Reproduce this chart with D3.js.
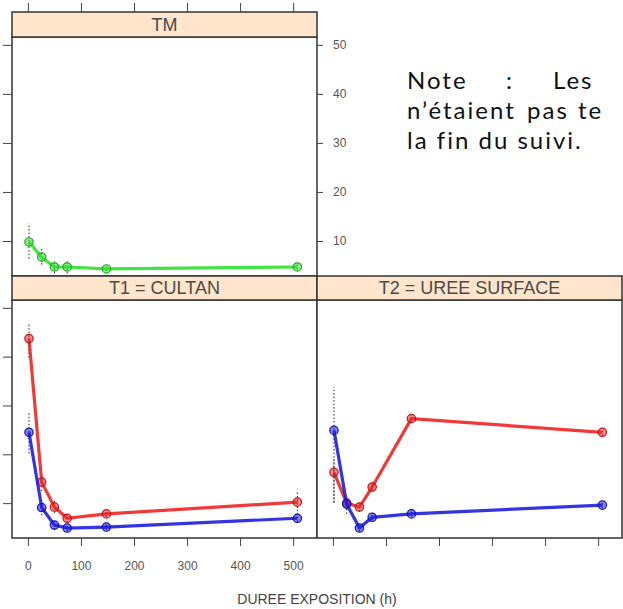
<!DOCTYPE html>
<html>
<head>
<meta charset="utf-8">
<script src="https://cdn.jsdelivr.net/npm/d3@7"></script>
<style>
  html, body { margin: 0; padding: 0; background: #fff; }
  svg { display: block; }
</style>
</head>
<body>
<div id="chart"></div>
<script>
// durations (h) shared by every panel
const hours = [2, 26, 50, 74, 148, 508];

// panel TM (green)
const tmVals = [9.8, 6.7, 4.7, 4.7, 4.3, 4.7];
const tmLo   = [6.4, 5.2, 3.4, 3.4, 3.9, 4.2];
const tmHi   = [13.6, 8.4, 5.8, 6.2, 4.8, 5.2];

// panel T1 = CULTAN
const t1Red  = [43.7, 14.3, 9.2, 6.9, 7.8, 10.2];
const t1RedLo = [39.8, 12.5, 8.0, 6.0, 7.2, 9.0];
const t1RedHi = [46.9, 15.6, 10.5, 7.8, 8.4, 12.2];
const t1Blue = [24.5, 9.1, 5.5, 4.9, 5.1, 6.9];
const t1BlueLo = [20.2, 7.5, 4.6, 4.2, 4.6, 6.2];
const t1BlueHi = [28.6, 10.5, 6.4, 5.6, 5.6, 9.0];

// panel T2 = UREE SURFACE
const t2Red  = [16.3, 10.0, 9.2, 13.3, 27.3, 24.5];
const t2RedLo = [10.2, 8.6, 8.2, 12.5, 26.5, 23.8];
const t2RedHi = [19.0, 11.2, 10.2, 14.0, 28.0, 25.2];
const t2Blue = [24.9, 9.8, 4.9, 7.1, 7.8, 9.6];
const t2BlueLo = [10.0, 7.8, 4.2, 6.5, 7.2, 9.0];
const t2BlueHi = [33.8, 11.5, 5.6, 7.6, 8.4, 10.2];

const xTicks = [0, 100, 200, 300, 400, 500];
const yTicks = [10, 20, 30, 40, 50];

const xDomain = [-30, 545];
const yDomain = [2.86, 51.6];

const noteLines = [
  ['Note', ':', 'Les'],
  ['n\u2019étaient', 'pas', 'te'],
  ['la fin du suivi.']
];

const width = 623, height = 609;
const colLeft = [12, 317], panelW = 305;
const stripTop = [12, 276], stripH = [25, 24];
const panelTop = [37, 300], panelBot = [276, 538];

const colors = { green: '#30e030', red: '#f02424', blue: '#1e1ee0' };

const svg = d3.select('#chart').append('svg')
  .attr('width', width).attr('height', height)
  .style('font-family', '"Liberation Sans", Arial, sans-serif');

const panels = [
  { name: 'TM', col: 0, row: 0, series: [
      { vals: tmVals, lo: tmLo, hi: tmHi, color: colors.green } ] },
  { name: 'T1 = CULTAN', col: 0, row: 1, series: [
      { vals: t1Red, lo: t1RedLo, hi: t1RedHi, color: colors.red },
      { vals: t1Blue, lo: t1BlueLo, hi: t1BlueHi, color: colors.blue } ] },
  { name: 'T2 = UREE SURFACE', col: 1, row: 1, series: [
      { vals: t2Red, lo: t2RedLo, hi: t2RedHi, color: colors.red },
      { vals: t2Blue, lo: t2BlueLo, hi: t2BlueHi, color: colors.blue } ] }
];

function styleAxis(g) {
  g.select('.domain').remove();
  g.selectAll('line').attr('stroke', '#444').attr('stroke-width', 1);
  g.selectAll('text').attr('fill', '#555').style('font-size', '12px');
}

panels.forEach(p => {
  const x = d3.scaleLinear().domain(xDomain).range([colLeft[p.col], colLeft[p.col] + panelW]);
  const y = d3.scaleLinear().domain(yDomain).range([panelBot[p.row], panelTop[p.row]]);
  const g = svg.append('g');

  g.append('rect')
    .attr('x', colLeft[p.col]).attr('y', panelTop[p.row])
    .attr('width', panelW).attr('height', panelBot[p.row] - panelTop[p.row])
    .attr('fill', '#fff');

  const clipId = 'clip' + p.col + p.row;
  g.append('clipPath').attr('id', clipId).append('rect')
    .attr('x', colLeft[p.col]).attr('y', panelTop[p.row])
    .attr('width', panelW).attr('height', panelBot[p.row] - panelTop[p.row]);
  const plot = g.append('g').attr('clip-path', `url(#${clipId})`);

  p.series.forEach(s => {
    const pts = hours.map((h, i) => ({ h, v: s.vals[i], lo: s.lo[i], hi: s.hi[i] }));

    // dotted error bars
    plot.selectAll(null).data(pts).enter().append('line')
      .attr('x1', d => x(d.h)).attr('x2', d => x(d.h))
      .attr('y1', d => y(d.lo)).attr('y2', d => y(d.hi))
      .attr('stroke', '#222').attr('stroke-width', 1)
      .attr('stroke-dasharray', '1.5,2');

    plot.append('path').datum(pts)
      .attr('fill', 'none').attr('stroke', s.color)
      .attr('stroke-width', 3.2).attr('stroke-linejoin', 'round')
      .attr('opacity', 0.9)
      .attr('d', d3.line().x(d => x(d.h)).y(d => y(d.v)));

    plot.selectAll(null).data(pts).enter().append('circle')
      .attr('cx', d => x(d.h)).attr('cy', d => y(d.v)).attr('r', 4.2)
      .attr('fill', s.color).attr('fill-opacity', 0.55)
      .attr('stroke', d3.color(s.color).darker(0.8)).attr('stroke-width', 1.2);
  });

  // panel border
  g.append('rect')
    .attr('x', colLeft[p.col]).attr('y', panelTop[p.row])
    .attr('width', panelW).attr('height', panelBot[p.row] - panelTop[p.row])
    .attr('fill', 'none').attr('stroke', '#333').attr('stroke-width', 1.5);

  // strip
  g.append('rect')
    .attr('x', colLeft[p.col]).attr('y', stripTop[p.row])
    .attr('width', panelW).attr('height', stripH[p.row])
    .attr('fill', '#ffe5cc').attr('stroke', '#333').attr('stroke-width', 1.5);
  g.append('text')
    .attr('x', colLeft[p.col] + panelW / 2)
    .attr('y', stripTop[p.row] + stripH[p.row] / 2)
    .attr('dy', '0.36em').attr('text-anchor', 'middle')
    .attr('fill', '#4a4a4a').style('font-size', '18px')
    .text(p.name);

  // axes
  if (p.row === 0) {
    g.append('g').attr('transform', `translate(0,${stripTop[0]})`)
      .call(d3.axisTop(x).tickValues(xTicks).tickSize(9).tickFormat(''))
      .call(styleAxis);
    g.append('g').attr('transform', `translate(${colLeft[p.col] + panelW},0)`)
      .call(d3.axisRight(y).tickValues(yTicks).tickSize(6).tickPadding(10))
      .call(styleAxis);
  } else {
    g.append('g').attr('transform', `translate(0,${panelBot[1]})`)
      .call(d3.axisBottom(x).tickValues(xTicks).tickSize(8).tickPadding(15)
        .tickFormat(p.col === 0 ? d3.format('d') : ''))
      .call(styleAxis);
  }
  if (p.col === 0) {
    g.append('g').attr('transform', `translate(${colLeft[0]},0)`)
      .call(d3.axisLeft(y).tickValues(yTicks).tickSize(9).tickFormat(''))
      .call(styleAxis);
  }
});

// x axis title
svg.append('text')
  .attr('x', (colLeft[0] + colLeft[1] + panelW) / 2).attr('y', 604)
  .attr('text-anchor', 'middle').attr('fill', '#444')
  .style('font-size', '14px')
  .text('DUREE EXPOSITION (h)');

// note text over the empty panel slot (justified words, as in the source)
const wordX = [[407, 506, 553], [407, 527, 578], [407]];
const lineY = [89, 119, 149];
const note = svg.append('g')
  .style('font-family', 'Lato, "Open Sans", sans-serif')
  .style('font-size', '24px').style('letter-spacing', '2px')
  .attr('fill', '#111');
noteLines.forEach((words, li) => {
  words.forEach((w, wi) => {
    note.append('text').attr('x', wordX[li][wi]).attr('y', lineY[li]).text(w);
  });
});
</script>
</body>
</html>
